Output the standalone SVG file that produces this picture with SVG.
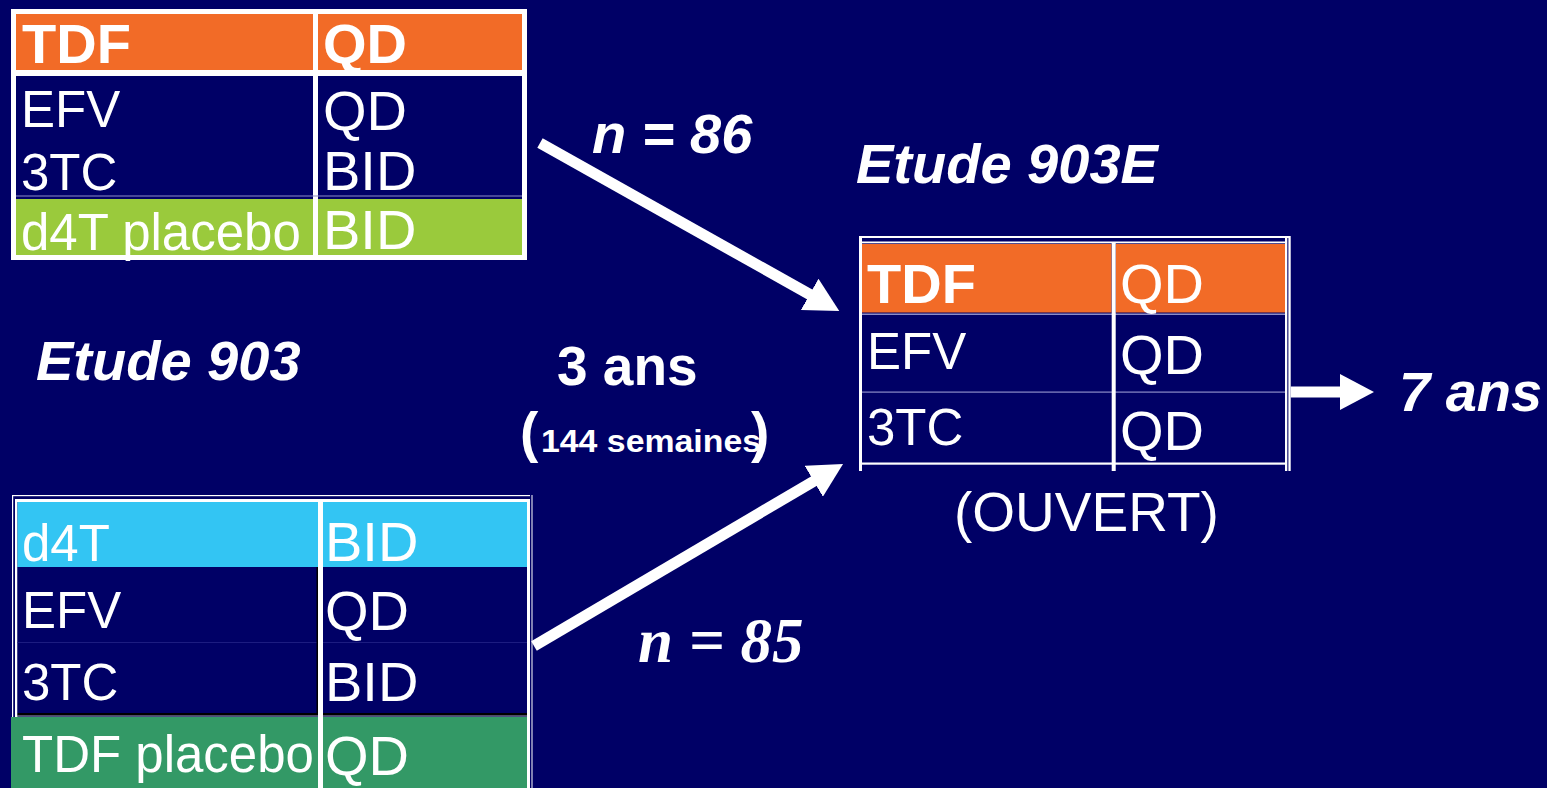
<svg xmlns="http://www.w3.org/2000/svg" width="1547" height="788" viewBox="0 0 1547 788">
  <defs>
    <style>
      .t { font-family: "Liberation Sans", Arial, sans-serif; fill: #ffffff; }
      .l { font-size: 51px; }
      .r { font-size: 56px; }
      .b { font-weight: bold; }
      .bi { font-weight: bold; font-style: italic; font-size: 56px; }
      .orange { fill: #f26b27; }
      .navy { fill: #000066; }
      .lime { fill: #9aca3c; }
      .cyan { fill: #33c5f3; }
      .green { fill: #339966; }
      .white { fill: #ffffff; }
      .rule { fill: #8c8cc8; }
      .conn { stroke: #ffffff; stroke-width: 11; fill: none; marker-end: url(#head); }
    </style>
    <marker id="head" markerUnits="userSpaceOnUse" markerWidth="35" markerHeight="36" refX="1" refY="18" orient="auto">
      <path d="M0,0 L34,18 L0,36 Z" fill="#ffffff"/>
    </marker>
  </defs>

  <!-- background -->
  <rect x="0" y="0" width="1547" height="788" fill="#000066"/>

  <!-- Etude 903, arm 1 -->
  <g id="table-tdf">
    <rect class="white" x="11" y="9" width="516" height="251"/>
    <rect class="orange" x="16" y="14" width="297" height="56"/>
    <rect class="orange" x="318" y="14" width="204" height="56"/>
    <rect class="navy" x="16" y="76" width="297" height="123"/>
    <rect class="navy" x="318" y="76" width="204" height="123"/>
    <rect class="rule" x="16" y="195.5" width="506" height="1"/>
    <rect class="lime" x="16" y="199" width="297" height="56"/>
    <rect class="lime" x="318" y="199" width="204" height="56"/>
    <text class="t b r" x="22" y="63">TDF</text>
    <text class="t b r" x="323" y="63">QD</text>
    <text class="t l" x="21" y="127">EFV</text>
    <text class="t l" x="21" y="190">3TC</text>
    <text class="t r" x="323" y="130">QD</text>
    <text class="t r" x="323" y="190">BID</text>
    <text class="t l" x="21" y="250">d4T placebo</text>
    <text class="t r" x="323" y="249">BID</text>
  </g>

  <!-- Etude 903, arm 2 -->
  <g id="table-d4t">
    <rect class="white" x="12" y="495" width="518" height="1.2"/>
    <rect class="white" x="12" y="495" width="1.2" height="293"/>
    <rect class="white" x="15" y="499" width="515" height="3"/>
    <rect class="white" x="15" y="499" width="2.5" height="289"/>
    <rect class="cyan" x="17.5" y="502" width="300.5" height="65"/>
    <rect class="cyan" x="323" y="502" width="204" height="65"/>
    <rect class="navy" x="17.5" y="567" width="300.5" height="146"/>
    <rect class="navy" x="323" y="567" width="204" height="146"/>
    <rect fill="#1c1c80" x="17.5" y="642" width="509.5" height="1"/>
    <rect fill="#000000" x="17.5" y="713" width="509.5" height="2.5"/>
    <rect fill="#9a9a9a" x="17.5" y="715.5" width="509.5" height="1"/>
    <rect class="green" x="11" y="717" width="307" height="71"/>
    <rect class="green" x="323" y="717" width="204" height="71"/>
    <rect fill="#000000" x="316.5" y="567" width="1.5" height="146"/>
    <rect class="white" x="318" y="500" width="5" height="288"/>
    <rect class="white" x="527" y="499" width="3" height="289"/>
    <rect class="white" x="531.5" y="495" width="1" height="293"/>
    <text class="t l" x="22" y="561">d4T</text>
    <text class="t r" x="325" y="561">BID</text>
    <text class="t l" x="22" y="628">EFV</text>
    <text class="t r" x="325" y="630">QD</text>
    <text class="t l" x="22" y="700">3TC</text>
    <text class="t r" x="325" y="701">BID</text>
    <text class="t l" x="22" y="772">TDF placebo</text>
    <text class="t r" x="325" y="775">QD</text>
  </g>

  <!-- Etude 903E, open-label -->
  <g id="table-903e">
    <rect class="white" x="859" y="236" width="431" height="2"/>
    <rect class="white" x="862" y="241.5" width="425" height="1.8"/>
    <rect class="orange" x="862" y="244" width="249.5" height="68.5"/>
    <rect class="orange" x="1115.7" y="244" width="170" height="68.5"/>
    <rect class="rule" x="862" y="313.5" width="424" height="1.5"/>
    <rect class="navy" x="862" y="315" width="249.5" height="147.5"/>
    <rect class="navy" x="1115.7" y="315" width="170" height="147.5"/>
    <rect class="rule" x="862" y="391.5" width="424" height="1.2"/>
    <rect class="white" x="862" y="462.5" width="425" height="2.2"/>
    <rect class="white" x="859" y="236" width="3" height="235"/>
    <rect class="white" x="1111.7" y="242" width="4" height="229"/>
    <rect class="white" x="1285" y="236" width="2.3" height="235"/>
    <rect class="white" x="1288.4" y="236" width="2.3" height="235"/>
    <text class="t b r" x="867" y="303">TDF</text>
    <text class="t r" x="1120" y="303">QD</text>
    <text class="t l" x="867" y="369">EFV</text>
    <text class="t r" x="1120" y="374">QD</text>
    <text class="t l" x="867" y="445">3TC</text>
    <text class="t r" x="1120" y="450">QD</text>
  </g>

  <!-- connectors -->
  <g id="connectors">
    <line class="conn" x1="540" y1="143" x2="810.5" y2="294.9"/>
    <line class="conn" x1="534" y1="646" x2="814.6" y2="480.7"/>
    <line class="conn" x1="1290.7" y1="392" x2="1341" y2="392"/>
  </g>

  <!-- labels -->
  <g id="labels">
    <text class="t bi" x="592" y="153">n = 86</text>
    <text class="t bi" x="856" y="183">Etude 903E</text>
    <text class="t bi" x="36" y="380">Etude 903</text>
    <text class="t b" font-size="55" x="557" y="385">3 ans</text>
    <text class="t b" font-size="55" x="520" y="451">(</text>
    <text class="t b" font-size="31" x="541" y="452" textLength="220" lengthAdjust="spacingAndGlyphs">144 semaines</text>
    <text class="t b" font-size="55" x="751" y="451">)</text>
    <text x="638" y="662" font-family="Liberation Serif, 'Times New Roman', serif" font-weight="bold" font-style="italic" font-size="63" fill="#ffffff">n = 85</text>
    <text class="t" font-size="55" x="954" y="531">(OUVERT)</text>
    <text class="t bi" x="1399" y="411">7 ans</text>
  </g>
</svg>
